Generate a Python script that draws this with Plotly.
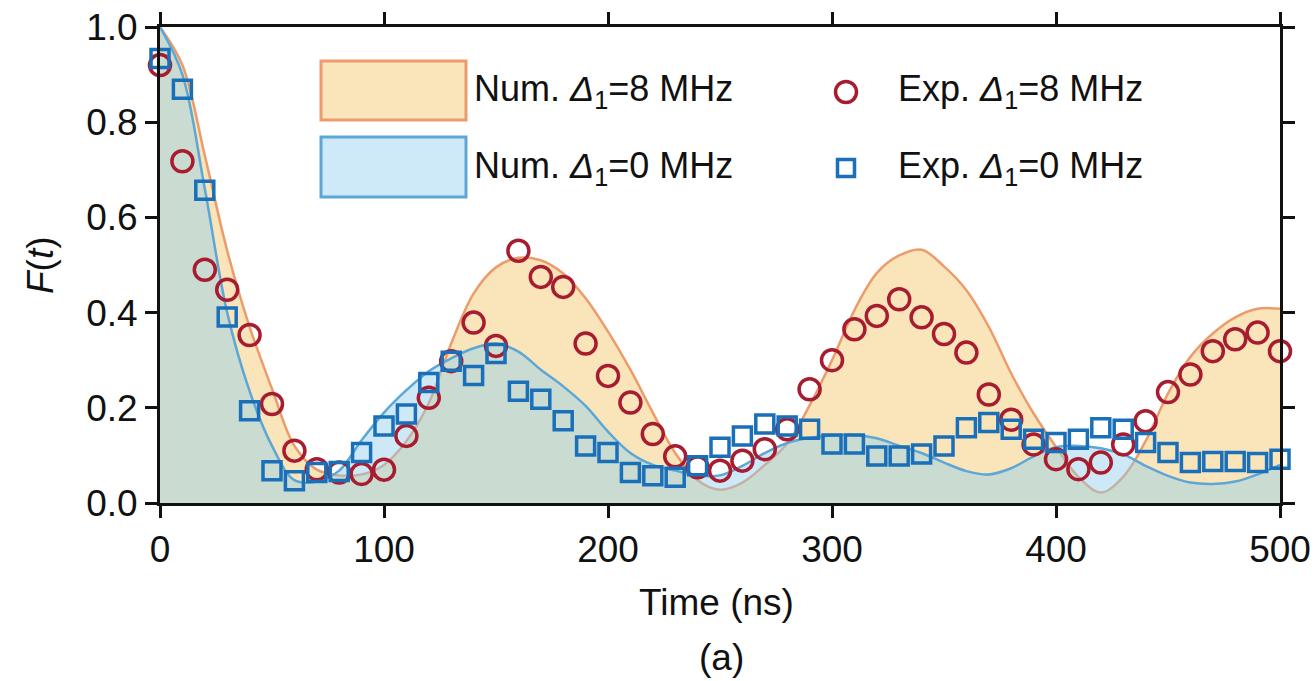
import plotly.graph_objects as go

# ---------------- data ----------------
t_num = [0, 10, 20, 30, 40, 50, 60, 70, 80, 90, 100, 110, 120, 130, 140, 150, 160, 170, 180, 190,
         200, 210, 220, 230, 240, 250, 260, 270, 280, 290, 300, 310, 320, 330, 340, 350, 360, 370,
         380, 390, 400, 410, 420, 430, 440, 450, 460, 470, 480, 490, 500]

num_8mhz = [1.0, 0.92, 0.73, 0.53, 0.37, 0.24, 0.12, 0.07, 0.058, 0.06, 0.08, 0.13, 0.21, 0.335,
            0.44, 0.495, 0.515, 0.51, 0.482, 0.43, 0.36, 0.28, 0.19, 0.105, 0.048, 0.028, 0.043,
            0.08, 0.125, 0.205, 0.30, 0.405, 0.483, 0.52, 0.532, 0.497, 0.447, 0.37, 0.272, 0.188,
            0.118, 0.055, 0.022, 0.055, 0.13, 0.23, 0.307, 0.356, 0.39, 0.408, 0.408]

num_0mhz = [1.0, 0.90, 0.66, 0.40, 0.235, 0.12, 0.048, 0.045, 0.068, 0.132, 0.19, 0.237, 0.277,
            0.304, 0.325, 0.335, 0.318, 0.28, 0.245, 0.204, 0.15, 0.105, 0.08, 0.068, 0.058, 0.058,
            0.078, 0.105, 0.126, 0.137, 0.142, 0.143, 0.136, 0.12, 0.105, 0.085, 0.067, 0.06, 0.073,
            0.098, 0.117, 0.12, 0.115, 0.102, 0.078, 0.057, 0.043, 0.04, 0.045, 0.06, 0.08]

t_exp = list(range(0, 501, 10))

exp_8mhz = [0.92, 0.718, 0.49, 0.448, 0.353, 0.208, 0.11, 0.071, 0.064, 0.061, 0.07, 0.141, 0.221,
            0.298, 0.379, 0.33, 0.53, 0.475, 0.454, 0.335, 0.267, 0.211, 0.145, 0.098, 0.075, 0.068,
            0.089, 0.113, 0.155, 0.239, 0.30, 0.365, 0.393, 0.428, 0.39, 0.355, 0.316, 0.228, 0.175,
            0.123, 0.092, 0.071, 0.085, 0.123, 0.172, 0.233, 0.27, 0.319, 0.344, 0.358, 0.319]

exp_0mhz = [0.934, 0.869, 0.657, 0.391, 0.194, 0.068, 0.047, 0.064, 0.066, 0.106, 0.162, 0.187,
            0.253, 0.298, 0.268, 0.314, 0.235, 0.218, 0.173, 0.12, 0.106, 0.064, 0.057, 0.054, 0.078,
            0.117, 0.141, 0.166, 0.162, 0.155, 0.124, 0.124, 0.099, 0.099, 0.103, 0.12, 0.158, 0.169,
            0.155, 0.134, 0.127, 0.134, 0.158, 0.155, 0.127, 0.106, 0.085, 0.087, 0.087, 0.085, 0.092]

x_ticks = [0, 100, 200, 300, 400, 500]
y_ticks = [0.0, 0.2, 0.4, 0.6, 0.8, 1.0]

legend_labels = ["Num. <i>Δ</i><sub>1</sub>=8 MHz", "Num. <i>Δ</i><sub>1</sub>=0 MHz",
                 "Exp. <i>Δ</i><sub>1</sub>=8 MHz", "Exp. <i>Δ</i><sub>1</sub>=0 MHz"]

# ---------------- styles ----------------
FONT = "Liberation Sans, Arial, sans-serif"
ORANGE_LINE = "#ec9c6c"
ORANGE_FILL = "rgb(250,229,186)"
BLUE_LINE = "#5ca7d6"
BLUE_FILL = "rgba(144,206,237,0.45)"
RED_MK = "#a81c30"
BLUE_MK = "#1a6fb9"

fig = go.Figure()

fig.add_trace(go.Scatter(x=t_num, y=num_8mhz, mode="lines", fill="tozeroy",
                         fillcolor=ORANGE_FILL, line=dict(color=ORANGE_LINE, width=2.5, shape="spline", smoothing=1.0),
                         showlegend=False, hoverinfo="skip"))
fig.add_trace(go.Scatter(x=t_num, y=num_0mhz, mode="lines", fill="tozeroy",
                         fillcolor=BLUE_FILL, line=dict(color=BLUE_LINE, width=2.5, shape="spline", smoothing=1.0),
                         showlegend=False, hoverinfo="skip"))
fig.add_trace(go.Scatter(x=t_exp, y=exp_8mhz, mode="markers", cliponaxis=False,
                         marker=dict(symbol="circle-open", size=21, color=RED_MK, line=dict(width=3.5, color=RED_MK)),
                         showlegend=False))
fig.add_trace(go.Scatter(x=t_exp, y=exp_0mhz, mode="markers", cliponaxis=False,
                         marker=dict(symbol="square-open", size=18, color=BLUE_MK, line=dict(width=3.5, color=BLUE_MK)),
                         showlegend=False))

# plot area in pixels
L, R, T, B = 160, 1280, 27, 503
W, H = 1314, 681


def px(xp):
    return (xp - L) / (R - L)


def py(yp):
    return (B - yp) / (B - T)


shapes = [
    dict(type="rect", xref="paper", yref="paper", x0=px(321), x1=px(466), y0=py(120), y1=py(61),
         fillcolor=ORANGE_FILL, line=dict(color=ORANGE_LINE, width=3), layer="above"),
    dict(type="rect", xref="paper", yref="paper", x0=px(321), x1=px(466), y0=py(197), y1=py(137),
         fillcolor="rgb(206,233,248)", line=dict(color=BLUE_LINE, width=3), layer="above"),
    dict(type="circle", xref="paper", yref="paper", xsizemode="pixel", ysizemode="pixel",
         xanchor=px(846), yanchor=py(92), x0=-10.5, x1=10.5, y0=-10.5, y1=10.5,
         line=dict(color=RED_MK, width=3.5), layer="above"),
    dict(type="rect", xref="paper", yref="paper", xsizemode="pixel", ysizemode="pixel",
         xanchor=px(846), yanchor=py(168), x0=-8.5, x1=8.5, y0=-8.5, y1=8.5,
         line=dict(color=BLUE_MK, width=3.5), layer="above"),
]

LFONT = dict(family=FONT, size=36, color="#111")
annotations = [
    dict(text=legend_labels[0], xref="paper", yref="paper", x=px(472), y=py(91), xanchor="left",
         yanchor="middle", showarrow=False, font=LFONT),
    dict(text=legend_labels[1], xref="paper", yref="paper", x=px(472), y=py(168), xanchor="left",
         yanchor="middle", showarrow=False, font=LFONT),
    dict(text=legend_labels[2], xref="paper", yref="paper", x=px(896), y=py(91), xanchor="left",
         yanchor="middle", showarrow=False, font=LFONT),
    dict(text=legend_labels[3], xref="paper", yref="paper", x=px(896), y=py(168), xanchor="left",
         yanchor="middle", showarrow=False, font=LFONT),
    dict(text="Time (ns)", xref="paper", yref="paper", x=px(716), y=py(602), xanchor="center",
         yanchor="middle", showarrow=False, font=dict(family=FONT, size=37, color="#111")),
    dict(text="(a)", xref="paper", yref="paper", x=px(721), y=py(657), xanchor="center",
         yanchor="middle", showarrow=False, font=dict(family=FONT, size=37, color="#111")),
    dict(text="<i>F</i>(<i>t</i>)", xref="paper", yref="paper", x=px(40), y=py(265), xanchor="center",
         yanchor="middle", textangle=-90, showarrow=False, font=dict(family=FONT, size=37, color="#111")),
]

axis_common = dict(showline=True, linecolor="#111", linewidth=3, mirror="ticks", ticks="outside",
                   ticklen=12, tickwidth=3, tickcolor="#111", showgrid=False, zeroline=False,
                   automargin=False, tickfont=dict(family=FONT, size=37, color="#111"))

fig.update_layout(
    width=W, height=H,
    margin=dict(l=L, r=W - R, t=T, b=H - B, autoexpand=False),
    paper_bgcolor="white", plot_bgcolor="white",
    showlegend=False,
    xaxis=dict(range=[0, 500], tickvals=x_ticks, ticktext=[str(v) for v in x_ticks], **axis_common),
    yaxis=dict(range=[0, 1.0], tickvals=y_ticks, ticktext=[f"{v:.1f}" for v in y_ticks], **axis_common),
    shapes=shapes, annotations=annotations,
)

fig.write_html("out.html", config={"displayModeBar": False},
               post_script="document.body.style.margin='0';")
